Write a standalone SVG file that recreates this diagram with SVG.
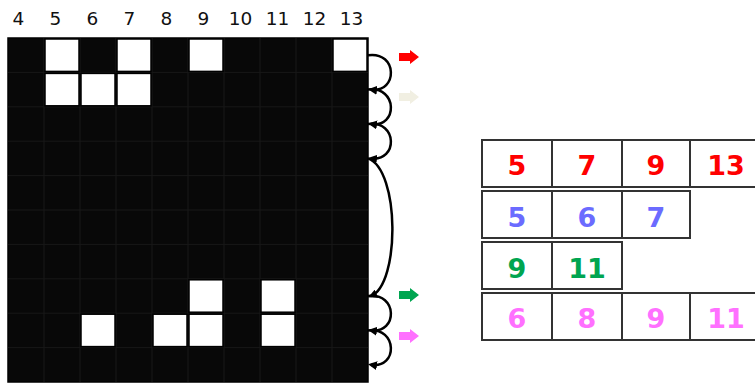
<svg xmlns="http://www.w3.org/2000/svg" width="755" height="383" viewBox="0 0 755 383">
<style>
.hdr{font-family:"DejaVu Sans",Verdana,sans-serif;font-size:18.5px;fill:#111;text-anchor:middle}
.num{font-family:"DejaVu Sans",Verdana,sans-serif;font-size:27px;font-weight:bold;text-anchor:middle}
.gl{stroke:#181818;stroke-width:1}
.w{fill:#fff;stroke:#000;stroke-width:1.5}
.cell{fill:#fff;stroke:#333;stroke-width:2}
.arc{fill:none;stroke:#000;stroke-width:2.5;marker-end:url(#ah)}
.r{fill:#ff0000}.b{fill:#6b6bff}.g{fill:#00a550}.m{fill:#ff70ff}
</style>
<defs>
<marker id="ah" markerWidth="9" markerHeight="9" refX="6" refY="4.5" orient="auto" markerUnits="userSpaceOnUse">
<path d="M0,0 L9,4.5 L0,9 Z" fill="#000"/>
</marker>
<path id="blk" d="M0,-4 L11,-4 L11,-7 L20,0 L11,7 L11,4 L0,4 Z"/>
</defs>
<rect width="755" height="383" fill="#fff"/>
<g id="headers">
<text class="hdr" x="18.5" y="25">4</text>
<text class="hdr" x="55.5" y="25">5</text>
<text class="hdr" x="92.5" y="25">6</text>
<text class="hdr" x="129.5" y="25">7</text>
<text class="hdr" x="166.5" y="25">8</text>
<text class="hdr" x="203.5" y="25">9</text>
<text class="hdr" x="240.5" y="25">10</text>
<text class="hdr" x="277.5" y="25">11</text>
<text class="hdr" x="314.5" y="25">12</text>
<text class="hdr" x="351.5" y="25">13</text>
</g>
<g id="grid">
<rect x="8" y="38" width="360" height="344" fill="#080808" stroke="#000" stroke-width="1.5"/>
<path class="gl" d="M44,38V382M80,38V382M116,38V382M152,38V382M188,38V382M224,38V382M260,38V382M296,38V382M332,38V382M8,72.4H368M8,106.8H368M8,141.2H368M8,175.6H368M8,210H368M8,244.4H368M8,278.8H368M8,313.2H368M8,347.6H368"/>
<rect class="w" x="45" y="39" width="34" height="32.4"/>
<rect class="w" x="117" y="39" width="34" height="32.4"/>
<rect class="w" x="189" y="39" width="34" height="32.4"/>
<rect class="w" x="333" y="39" width="34" height="32.4"/>
<rect class="w" x="45" y="73.4" width="34" height="32.4"/>
<rect class="w" x="81" y="73.4" width="34" height="32.4"/>
<rect class="w" x="117" y="73.4" width="34" height="32.4"/>
<rect class="w" x="189" y="279.8" width="34" height="32.4"/>
<rect class="w" x="261" y="279.8" width="34" height="32.4"/>
<rect class="w" x="81" y="314.2" width="34" height="32.4"/>
<rect class="w" x="153" y="314.2" width="34" height="32.4"/>
<rect class="w" x="189" y="314.2" width="34" height="32.4"/>
<rect class="w" x="261" y="314.2" width="34" height="32.4"/>
</g>
<g id="connectors">
<path class="arc" d="M368,55.2 C398,51 398,93 371,89.6"/>
<path class="arc" d="M368,89.6 C398,86 398,128 371,124"/>
<path class="arc" d="M368,124 C398,120 398,162 371,158.4"/>
<path class="arc" d="M368,158.4 C400,170 400,284 371,296"/>
<path class="arc" d="M368,296 C398,292 398,334 371,330.4"/>
<path class="arc" d="M368,330.4 C398,327 398,369 371,364.8"/>
</g>
<g id="pointers">
<use href="#blk" x="399" y="57" fill="#ff0000"/>
<use href="#blk" x="399" y="97" fill="#f1efe2"/>
<use href="#blk" x="399" y="295" fill="#00a550"/>
<use href="#blk" x="399" y="336" fill="#ff70ff"/>
</g>
<g id="table">
<rect class="cell" x="482" y="140" width="70" height="47"/>
<rect class="cell" x="552" y="140" width="70" height="47"/>
<rect class="cell" x="622" y="140" width="68" height="47"/>
<rect class="cell" x="690" y="140" width="70" height="47"/>
<rect class="cell" x="482" y="191" width="70" height="47"/>
<rect class="cell" x="552" y="191" width="70" height="47"/>
<rect class="cell" x="622" y="191" width="68" height="47"/>
<rect class="cell" x="482" y="242" width="70" height="47"/>
<rect class="cell" x="552" y="242" width="70" height="47"/>
<rect class="cell" x="482" y="293" width="70" height="47"/>
<rect class="cell" x="552" y="293" width="70" height="47"/>
<rect class="cell" x="622" y="293" width="68" height="47"/>
<rect class="cell" x="690" y="293" width="70" height="47"/>
<text class="num r" x="517" y="175">5</text>
<text class="num r" x="587" y="175">7</text>
<text class="num r" x="656" y="175">9</text>
<text class="num r" x="726" y="175">13</text>
<text class="num b" x="517" y="227">5</text>
<text class="num b" x="587" y="227">6</text>
<text class="num b" x="656" y="227">7</text>
<text class="num g" x="517" y="278">9</text>
<text class="num g" x="587" y="278">11</text>
<text class="num m" x="517" y="328">6</text>
<text class="num m" x="587" y="328">8</text>
<text class="num m" x="656" y="328">9</text>
<text class="num m" x="726" y="328">11</text>
</g>
</svg>
